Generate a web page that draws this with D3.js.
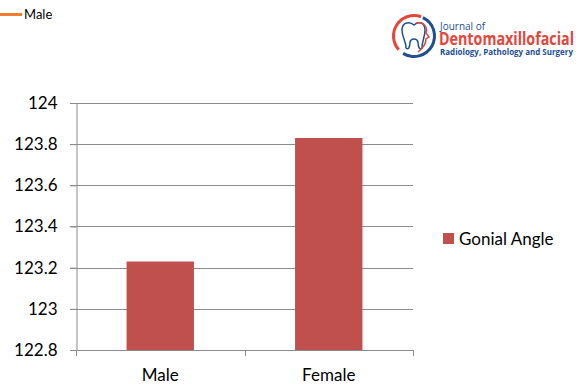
<!DOCTYPE html>
<html>
<head>
<meta charset="utf-8">
<script src="https://cdn.jsdelivr.net/npm/d3@7"></script>
<style>
body { margin: 0; background: #fff; }
text { font-family: Lato, "Liberation Sans", sans-serif; }
</style>
</head>
<body>
<div id="chart"></div>
<script>
var width = 576, height = 386;

var categories = ["Male", "Female"];
var gonialAngle = [123.23, 123.83];
var tickValues = [122.8, 123, 123.2, 123.4, 123.6, 123.8, 124];
var seriesName = "Gonial Angle";

var svg = d3.select("#chart").append("svg")
	.attr("width", width).attr("height", height);

var plotLeft = 76, plotRight = 413, plotTop = 103, plotBottom = 350;

var x = d3.scaleBand().domain(categories).range([plotLeft, plotRight]).paddingInner(0.6).paddingOuter(0.3);
var y = d3.scaleLinear().domain([122.8, 124]).range([plotBottom, plotTop]);

// gridlines
svg.append("g").selectAll("line").data(tickValues).enter().append("line")
	.attr("x1", plotLeft - 6).attr("x2", plotRight)
	.attr("y1", function(d){ return Math.round(y(d)) + 0.5; })
	.attr("y2", function(d){ return Math.round(y(d)) + 0.5; })
	.attr("stroke", "#8c8c8c").attr("stroke-width", 1);

// bars
svg.append("g").selectAll("rect").data(gonialAngle).enter().append("rect")
	.attr("x", function(d,i){ return x(categories[i]); })
	.attr("y", function(d){ return y(d); })
	.attr("width", x.bandwidth())
	.attr("height", function(d){ return plotBottom - y(d); })
	.attr("fill", "#c0504d");

// y axis
var yAxis = svg.append("g").attr("transform", "translate(" + (plotLeft + 0.5) + ",0)")
	.call(d3.axisLeft(y).tickValues(tickValues).tickSize(6).tickPadding(13)
		.tickFormat(function(d){ return d3.format("")(+d.toFixed(1)); }));
yAxis.select(".domain").attr("stroke", "#8c8c8c");
yAxis.selectAll(".tick line").attr("stroke", "#8c8c8c");
yAxis.selectAll("text").attr("font-size", 17).attr("fill", "#000")
	.style("font-family", "Lato, 'Liberation Sans', sans-serif");

// x axis: ticks at band boundaries
var xBounds = [plotLeft, (plotLeft + plotRight) / 2, plotRight];
svg.append("line").attr("x1", plotLeft).attr("x2", plotRight)
	.attr("y1", plotBottom + 0.5).attr("y2", plotBottom + 0.5).attr("stroke", "#8c8c8c");
svg.append("g").selectAll("line").data(xBounds).enter().append("line")
	.attr("x1", function(d){ return Math.round(d) + 0.5; })
	.attr("x2", function(d){ return Math.round(d) + 0.5; })
	.attr("y1", plotBottom).attr("y2", plotBottom + 6).attr("stroke", "#8c8c8c");
svg.append("g").selectAll("text").data(categories).enter().append("text")
	.attr("x", function(d){ return x(d) + x.bandwidth() / 2; })
	.attr("y", 381).attr("text-anchor", "middle").attr("font-size", 17)
	.text(function(d){ return d; });

// legend
svg.append("rect").attr("x", 443).attr("y", 233).attr("width", 11).attr("height", 11).attr("fill", "#c0504d");
svg.append("text").attr("x", 459).attr("y", 245).attr("font-size", 17).text(seriesName);

// top-left line legend
svg.append("line").attr("x1", 0).attr("x2", 22).attr("y1", 14.5).attr("y2", 14.5)
	.attr("stroke", "#f07d32").attr("stroke-width", 3);
svg.append("text").attr("x", 24).attr("y", 19).attr("font-size", 13).text(categories[0]);

// journal logo
var logo = svg.append("g").attr("transform", "translate(414,36)");
logo.append("path").attr("d", d3.arc()({innerRadius: 19, outerRadius: 22, startAngle: -2.3, endAngle: 0.35}))
	.attr("fill", "#e4463b");
logo.append("path").attr("d", d3.arc()({innerRadius: 19, outerRadius: 22, startAngle: 0.45, endAngle: 3.7}))
	.attr("fill", "#1d4f91");
logo.append("path")
	.attr("d", "M-12,-6 C-12,-14 -4,-15 0,-11 C4,-15 11,-14 11,-6 C11,2 8,4 8,12 C6,14 4,12 4,6 C3,2 -3,2 -4,6 C-4,12 -6,14 -8,12 C-8,4 -12,2 -12,-6 Z")
	.attr("fill", "none").attr("stroke", "#1d4f91").attr("stroke-width", 1.5);
logo.append("path")
	.attr("d", "M2,-13 C10,-15 14,-8 12,-3 L15,1 L12,3 C12,9 8,13 4,16")
	.attr("fill", "none").attr("stroke", "#e4463b").attr("stroke-width", 1.5);
logo.append("text").attr("x", 26).attr("y", -6).attr("font-size", 10).attr("fill", "#1d4f91")
	.style("font-family", "'Open Sans', sans-serif").text("Journal of");
logo.append("text").attr("x", 25).attr("y", 9).attr("font-size", 17.5).attr("font-weight", "bold").attr("fill", "#e4463b")
	.attr("textLength", 135).attr("lengthAdjust", "spacingAndGlyphs")
	.style("font-family", "'Open Sans', sans-serif").text("Dentomaxillofacial");
logo.append("text").attr("x", 26).attr("y", 19).attr("font-size", 9).attr("font-weight", "bold").attr("fill", "#1d4f91")
	.attr("textLength", 133).attr("lengthAdjust", "spacingAndGlyphs")
	.style("font-family", "'Open Sans', sans-serif").text("Radiology, Pathology and Surgery");
</script>
</body>
</html>
